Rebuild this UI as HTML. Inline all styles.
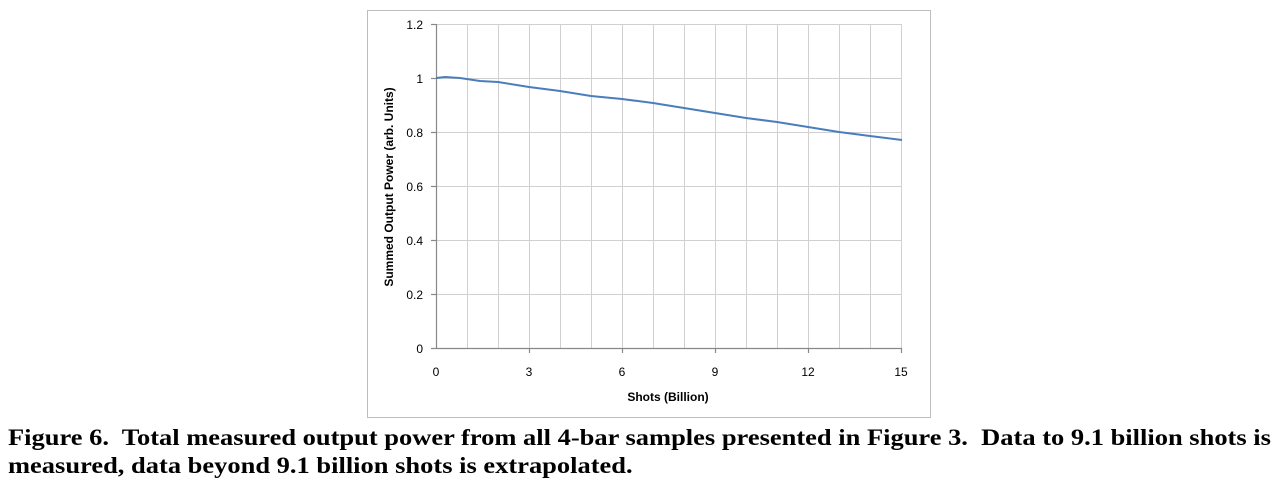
<!DOCTYPE html><html><head><style>
body{margin:0;width:1288px;height:484px;background:#fff;overflow:hidden;position:relative}
.cap{position:absolute;left:8px;top:424px;font:bold 23px "Liberation Serif",serif;line-height:28px;white-space:nowrap;transform:scaleX(1.151);transform-origin:0 0}
</style></head><body>
<svg width="1288" height="484" style="position:absolute;left:0;top:0" font-family="Liberation Sans, sans-serif">
<rect x="367.5" y="10.5" width="563" height="407" fill="#fff" stroke="#bdbdbd"/>
<g stroke="#d0d0d0" stroke-width="1">
<line x1="436" y1="24.5" x2="902" y2="24.5"/><line x1="436" y1="78.5" x2="902" y2="78.5"/><line x1="436" y1="132.5" x2="902" y2="132.5"/><line x1="436" y1="186.5" x2="902" y2="186.5"/><line x1="436" y1="240.5" x2="902" y2="240.5"/><line x1="436" y1="294.5" x2="902" y2="294.5"/>
<line x1="467.5" y1="24" x2="467.5" y2="348"/><line x1="498.5" y1="24" x2="498.5" y2="348"/><line x1="529.5" y1="24" x2="529.5" y2="348"/><line x1="560.5" y1="24" x2="560.5" y2="348"/><line x1="591.5" y1="24" x2="591.5" y2="348"/><line x1="622.5" y1="24" x2="622.5" y2="348"/><line x1="653.5" y1="24" x2="653.5" y2="348"/><line x1="684.5" y1="24" x2="684.5" y2="348"/><line x1="715.5" y1="24" x2="715.5" y2="348"/><line x1="746.5" y1="24" x2="746.5" y2="348"/><line x1="777.5" y1="24" x2="777.5" y2="348"/><line x1="808.5" y1="24" x2="808.5" y2="348"/><line x1="839.5" y1="24" x2="839.5" y2="348"/><line x1="870.5" y1="24" x2="870.5" y2="348"/><line x1="901.5" y1="24" x2="901.5" y2="348"/>
</g>
<g stroke="#888" stroke-width="1.2">
<line x1="436.5" y1="24" x2="436.5" y2="349"/><line x1="436" y1="348.5" x2="902" y2="348.5"/>
<line x1="431" y1="24.5" x2="436" y2="24.5"/><line x1="431" y1="78.5" x2="436" y2="78.5"/><line x1="431" y1="132.5" x2="436" y2="132.5"/><line x1="431" y1="186.5" x2="436" y2="186.5"/><line x1="431" y1="240.5" x2="436" y2="240.5"/><line x1="431" y1="294.5" x2="436" y2="294.5"/><line x1="431" y1="348.5" x2="436" y2="348.5"/>
<line x1="529.5" y1="348" x2="529.5" y2="353"/><line x1="622.5" y1="348" x2="622.5" y2="353"/><line x1="715.5" y1="348" x2="715.5" y2="353"/><line x1="808.5" y1="348" x2="808.5" y2="353"/><line x1="901.5" y1="348" x2="901.5" y2="353"/>
</g>
<polyline fill="none" stroke="#4a7ebb" stroke-width="2" points="436,78 445,77 460,78 480,81 498,82 529,87 560,91 591,96 622,99 653,103 684,108 715,113 746,118 777,122 808,127 839,132 870,136 902,140"/>
<g font-size="12" fill="#000" text-anchor="end">
<text x="423" y="29">1.2</text><text x="423" y="83">1</text><text x="423" y="137">0.8</text><text x="423" y="191">0.6</text><text x="423" y="245">0.4</text><text x="423" y="299">0.2</text><text x="423" y="353">0</text>
</g>
<g font-size="12" fill="#000" text-anchor="middle">
<text x="436" y="376">0</text><text x="529" y="376">3</text><text x="622" y="376">6</text><text x="715" y="376">9</text><text x="808" y="376">12</text><text x="901" y="376">15</text>
<text x="668" y="401" font-weight="bold">Shots (Billion)</text>
<text transform="translate(393,187) rotate(-90)" font-weight="bold">Summed Output Power (arb. Units)</text>
</g>
</svg>
<div class="cap">Figure 6.&nbsp; Total measured output power from all 4-bar samples presented in Figure 3.&nbsp; Data to 9.1 billion shots is<br>measured, data beyond 9.1 billion shots is extrapolated.</div>
</body></html>
